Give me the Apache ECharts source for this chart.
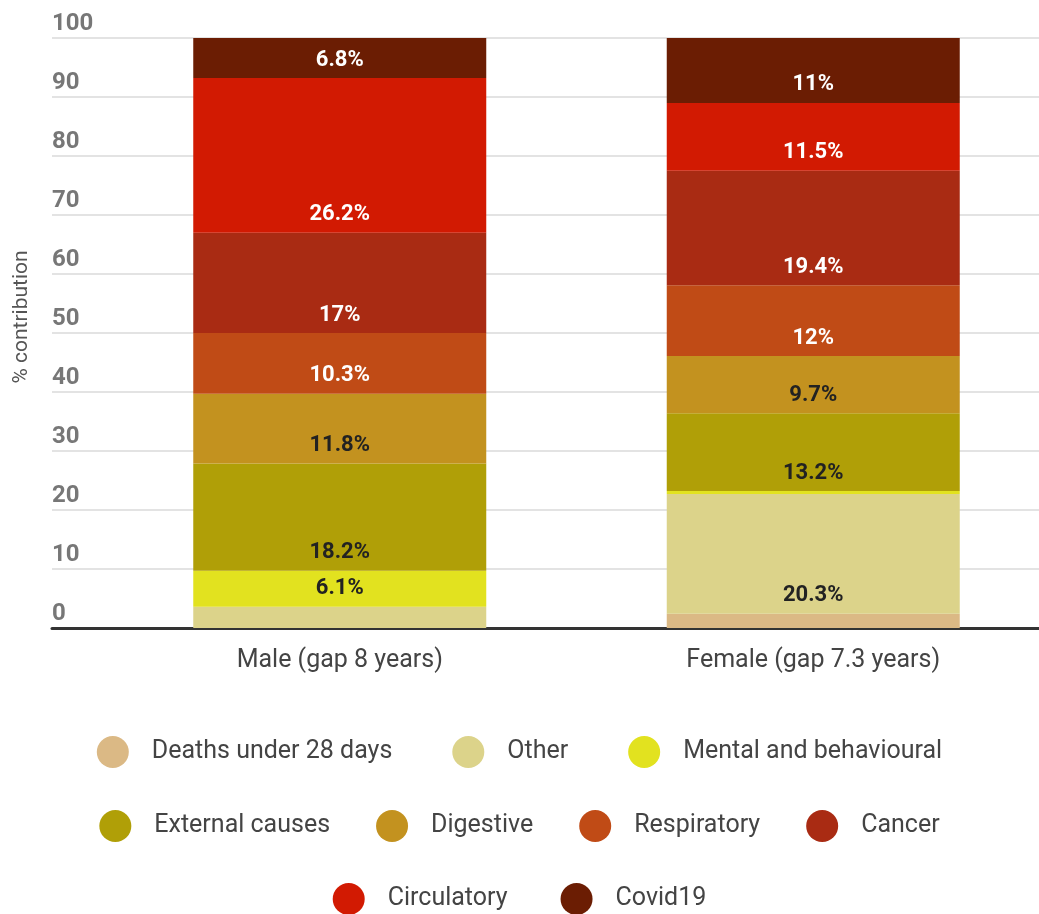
<!DOCTYPE html>
<html>
<head>
<meta charset="utf-8">
<script src="https://cdn.jsdelivr.net/npm/echarts@6/dist/echarts.min.js"></script>
<style>html,body{margin:0;padding:0;background:#fff;}#c{width:1039px;height:914px;}</style>
</head>
<body>
<div id="c"></div>
<script>
const categories = ['Male (gap 8 years)', 'Female (gap 7.3 years)'];
const seriesNames = ['Deaths under 28 days', 'Other', 'Mental and behavioural', 'External causes', 'Digestive', 'Respiratory', 'Cancer', 'Circulatory', 'Covid19'];
const maleValues = [0, 3.6, 6.1, 18.2, 11.8, 10.3, 17, 26.2, 6.8];
const femaleValues = [2.4, 20.3, 0.5, 13.2, 9.7, 12, 19.4, 11.5, 11];
const yTicks = [0, 10, 20, 30, 40, 50, 60, 70, 80, 90, 100];
const colors = ['#dbb985', '#dcd38a', '#e2e21f', '#b09f07', '#c3921f', '#c04b16', '#a92b13', '#d21a02', '#6b1d03'];
const labelColors = ['#222', '#222', '#222', '#222', '#222', '#fff', '#fff', '#fff', '#fff'];
const legendRows = [
  ['Deaths under 28 days', 'Other', 'Mental and behavioural'],
  ['External causes', 'Digestive', 'Respiratory', 'Cancer'],
  ['Circulatory', 'Covid19']
];

const chart = echarts.init(document.getElementById('c'), null, {renderer: 'canvas'});
const FONT = 'Roboto, "Noto Sans", sans-serif';

const series = seriesNames.map((name, i) => ({
  name: name,
  type: 'bar',
  stack: 'total',
  xAxisIndex: 1,
  yAxisIndex: 1,
  barWidth: 293,
  itemStyle: {color: colors[i]},
  label: {
    show: true,
    position: 'insideBottom',
    distance: 7,
    color: labelColors[i],
    fontFamily: FONT,
    fontSize: 22,
    fontWeight: 'bold',
    formatter: p => (p.value >= 5 ? p.value + '%' : '')
  },
  data: [maleValues[i], femaleValues[i]]
}));

const legendTops = [731, 805, 878];
const legendGaps = [60, 46, 53];
const legends = legendRows.map((row, r) => ({
  data: row,
  top: legendTops[r],
  left: 'center',
  icon: 'circle',
  itemWidth: 32,
  itemHeight: 32,
  itemGap: legendGaps[r],
  textStyle: {fontFamily: FONT, fontSize: 25, color: '#444', padding: [0, 0, 0, 18]}
}));

chart.setOption({
  animation: false,
  color: colors,
  legend: legends,
  grid: [
    {left: 52, right: 0, top: 38, bottom: 286, containLabel: false, outerBoundsMode: 'none'},
    {left: 103, width: 947, top: 38, bottom: 286, containLabel: false, outerBoundsMode: 'none'}
  ],
  xAxis: [
    {type: 'category', gridIndex: 0, data: [''], axisLine: {show: true, lineStyle: {color: '#333', width: 3}}, axisTick: {show: false}, axisLabel: {show: false}},
    {type: 'category', gridIndex: 1, data: categories, axisLine: {show: false}, axisTick: {show: false},
     axisLabel: {fontFamily: FONT, fontSize: 25, color: '#444', margin: 20}}
  ],
  yAxis: [
    {type: 'value', gridIndex: 0, min: 0, max: 100, interval: 10,
     name: '% contribution', nameLocation: 'middle', nameGap: 20, nameRotate: 90,
     nameTextStyle: {fontFamily: FONT, fontSize: 21, color: '#555', padding: [0, 0, 0, 32]},
     axisLine: {show: false}, axisTick: {show: false},
     axisLabel: {inside: true, align: 'left', verticalAlign: 'bottom', margin: 0, padding: [0, 0, 2, 0],
       fontFamily: FONT, fontSize: 24, fontWeight: 'bold', color: '#777',
       formatter: v => (yTicks.indexOf(v) >= 0 ? String(v) : '')},
     splitLine: {show: true, lineStyle: {color: '#e3e3e3', width: 2}}},
    {type: 'value', gridIndex: 1, min: 0, max: 100, interval: 10, show: false, splitLine: {show: false}}
  ],
  series: series
});
</script>
</body>
</html>
